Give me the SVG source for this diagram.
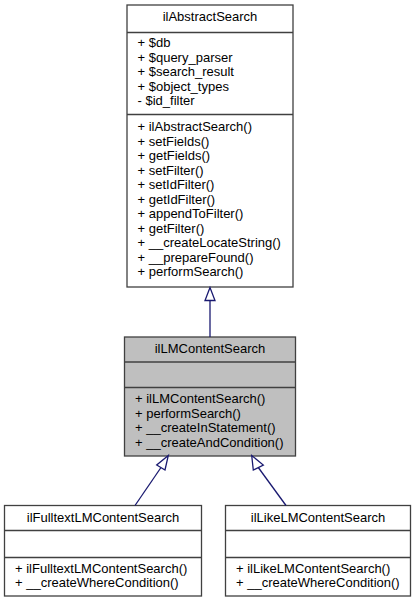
<svg xmlns="http://www.w3.org/2000/svg" width="416" height="603" viewBox="0 0 416 603">
<style>
text{font-family:"Liberation Sans",Arial,Helvetica,sans-serif;font-size:13px;fill:#000}
.t{text-anchor:middle}
.box{fill:#fff;stroke:#404040;stroke-width:1.3}
.sel{fill:#bfbfbf;stroke:#404040;stroke-width:1.3}
.sep{stroke:#404040;stroke-width:1.3}
.edge{fill:none;stroke:#191970;stroke-width:1.3}
.head{fill:#fff;stroke:#191970;stroke-width:1.3}
</style>
<rect width="416" height="603" fill="#fff"/>
<g id="ilAbstractSearch">
<rect class="box" x="127" y="5" width="166" height="282"/>
<line class="sep" x1="127" y1="32.5" x2="293" y2="32.5"/>
<line class="sep" x1="127" y1="114.5" x2="293" y2="114.5"/>
<text class="t" x="210" y="21">ilAbstractSearch</text>
<text x="137.5" y="47">+ $db</text>
<text x="137.5" y="61.5">+ $query_parser</text>
<text x="137.5" y="76">+ $search_result</text>
<text x="137.5" y="90.5">+ $object_types</text>
<text x="137.5" y="105">- $id_filter</text>
<text x="137.5" y="131">+ ilAbstractSearch()</text>
<text x="137.5" y="145.5">+ setFields()</text>
<text x="137.5" y="160">+ getFields()</text>
<text x="137.5" y="174.5">+ setFilter()</text>
<text x="137.5" y="189">+ setIdFilter()</text>
<text x="137.5" y="203.5">+ getIdFilter()</text>
<text x="137.5" y="218">+ appendToFilter()</text>
<text x="137.5" y="232.5">+ getFilter()</text>
<text x="137.5" y="247">+ __createLocateString()</text>
<text x="137.5" y="261.5">+ __prepareFound()</text>
<text x="137.5" y="276">+ performSearch()</text>
</g>
<g id="ilLMContentSearch">
<rect class="sel" x="124.5" y="337" width="171" height="119"/>
<line class="sep" x1="124.5" y1="362" x2="295.5" y2="362"/>
<line class="sep" x1="124.5" y1="387.5" x2="295.5" y2="387.5"/>
<text class="t" x="210" y="353">ilLMContentSearch</text>
<text x="135" y="403">+ ilLMContentSearch()</text>
<text x="135" y="417.5">+ performSearch()</text>
<text x="135" y="432">+ __createInStatement()</text>
<text x="135" y="446.5">+ __createAndCondition()</text>
</g>
<g id="ilFulltextLMContentSearch">
<rect class="box" x="4.5" y="505.5" width="197" height="90.5"/>
<line class="sep" x1="4.5" y1="530.5" x2="201.5" y2="530.5"/>
<line class="sep" x1="4.5" y1="557.5" x2="201.5" y2="557.5"/>
<text class="t" x="103" y="522">ilFulltextLMContentSearch</text>
<text x="15" y="572.5">+ ilFulltextLMContentSearch()</text>
<text x="15" y="587">+ __createWhereCondition()</text>
</g>
<g id="ilLikeLMContentSearch">
<rect class="box" x="225.5" y="505.5" width="185" height="90.5"/>
<line class="sep" x1="225.5" y1="530.5" x2="410.5" y2="530.5"/>
<line class="sep" x1="225.5" y1="557.5" x2="410.5" y2="557.5"/>
<text class="t" x="318" y="522">ilLikeLMContentSearch</text>
<text x="236" y="572.5">+ ilLikeLMContentSearch()</text>
<text x="236" y="587">+ __createWhereCondition()</text>
</g>
<g id="connectors">
<line class="edge" x1="210" y1="337" x2="210" y2="300.5"/>
<polygon class="head" points="210,287.5 205,300.5 215,300.5"/>
<line class="edge" x1="135" y1="505.5" x2="161" y2="467.5"/>
<polygon class="head" points="168.3,455.5 156.7,465 165,470"/>
<line class="edge" x1="286" y1="505.5" x2="258.3" y2="467.5"/>
<polygon class="head" points="251.7,455.5 253.3,470 263.3,465"/>
</g>
</svg>
